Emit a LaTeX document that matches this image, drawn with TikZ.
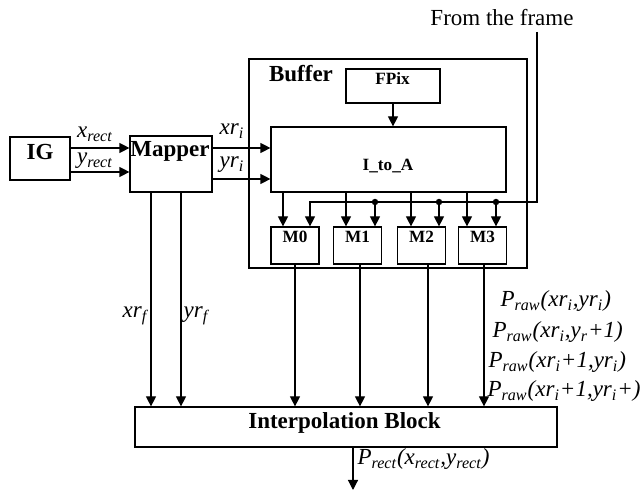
\documentclass[tikz,border=0pt]{standalone}
\usepackage{fontspec}
\setmainfont{Liberation Serif}
\usetikzlibrary{arrows.meta}
\newcommand{\lsub}[1]{\textsubscript{#1}}

\begin{document}
\begin{tikzpicture}[x=0.5pt, y=-0.5pt, line width=0.6pt,
    blk/.style={draw, inner sep=0pt},
    arr/.style={-{Triangle[length=5pt,width=5pt]}},
    big/.style={font=\fontsize{11.5}{13}\selectfont\bfseries, inner sep=0pt},
    sml/.style={font=\fontsize{8.6}{10}\selectfont\bfseries, inner sep=0pt},
    lab/.style={font=\fontsize{11.5}{13}\selectfont\itshape, inner sep=0pt}]
  \useasboundingbox (0,0) rectangle (644,490);

  % blocks
  \node[blk, minimum width=30pt, minimum height=21.5pt] (ig) at (40,158.5) {};
  \node[big, anchor=base] at (40,160) {IG};
  \node[blk, minimum width=41pt, minimum height=28pt] (map) at (171,164) {};
  \node[big, anchor=base] at (170,157) {Mapper};
  \node[blk, minimum width=139pt, minimum height=104.5pt] (buf) at (388,163.5) {};
  \node[big, anchor=base] at (301,82) {Buffer};
  \node[blk, minimum width=47pt, minimum height=17pt] (fpix) at (393,86) {};
  \node[sml, anchor=base] at (392.5,85) {FPix};
  \node[blk, minimum width=117.5pt, minimum height=32.5pt] (ita) at (388.5,159.5) {};
  \node[sml, anchor=base] at (388,171) {I\_to\_A};
  \foreach \n/\x in {0/295,1/357.5,2/421.5,3/482.5} {
    \node[blk, minimum width=24pt, minimum height=18.5pt] (m\n) at (\x,245.5) {};
    \node[sml, anchor=base] at (\x,243) {M\n};
  }
  \node[blk, minimum width=211pt, minimum height=20pt] (ip) at (346,427) {};
  \node[big, anchor=base] at (344.5,429) {Interpolation Block};
  \node[font=\fontsize{11.5}{13}\selectfont, inner sep=0pt, anchor=base] (frame) at (502,26) {From the frame};

  % left side
  \draw[arr] (ig.east |- 0,148) -- (map.west |- 0,148);
  \node[lab, anchor=base] at (95,138) {x\lsub{rect}};
  \draw[arr] (ig.east |- 0,172) -- (map.west |- 0,172);
  \node[lab, anchor=base] at (95,164) {y\lsub{rect}};
  \draw[arr] (map.east |- 0,148) -- (ita.west |- 0,148);
  \node[lab, anchor=base] at (232,135) {xr\lsub{i}};
  \draw[arr] (map.east |- 0,179) -- (ita.west |- 0,179);
  \node[lab, anchor=base] at (232,168) {yr\lsub{i}};
  \draw[arr] (map.south -| 151,0) -- (ip.north -| 151,0);
  \draw[arr] (map.south -| 181,0) -- (ip.north -| 181,0);
  \node[lab, anchor=base] at (135,318) {xr\lsub{f}};
  \node[lab, anchor=base] at (196,318) {yr\lsub{f}};

  % buffer
  \draw[arr] (fpix) -- (ita.north -| fpix);
  \foreach \n/\x in {0/283,1/346,2/411,3/467}
    \draw[arr] (ita.south -| \x,0) -- (m\n.north -| \x,0);
  \draw[arr] ([yshift=-3pt]frame.base -| 537,0) |- (310,202) -- (m0.north -| 310,0);
  \foreach \n/\x in {1/375,2/439,3/496} {
    \fill (\x,202) circle (1.6pt);
    \draw[arr] (\x,202) -- (m\n.north -| \x,0);
  }
  \foreach \n/\x in {0/295,1/360,2/428,3/484}
    \draw[arr] (m\n.south -| \x,0) -- (ip.north -| \x,0);

  % pixel values
  \node[lab, anchor=base west] (pr1) at (500,307) {P\lsub{raw}(xr\lsub{i},yr\lsub{i})};
  \node[lab, anchor=base west] (pr2) at (492,338) {P\lsub{raw}(xr\lsub{i},y\lsub{r}+1)};
  \node[lab, anchor=base west] (pr3) at (488,368) {P\lsub{raw}(xr\lsub{i}+1,yr\lsub{i})};
  \node[lab, anchor=base west] (pr4) at (487,397) {P\lsub{raw}(xr\lsub{i}+1,yr\lsub{i}+)};

  % output
  \coordinate (out) at (353,490);
  \draw[arr] (ip.south -| out) -- (out);
  \node[lab, anchor=base west] at (357,465) {P\lsub{rect}(x\lsub{rect},y\lsub{rect})};
\end{tikzpicture}
\end{document}
